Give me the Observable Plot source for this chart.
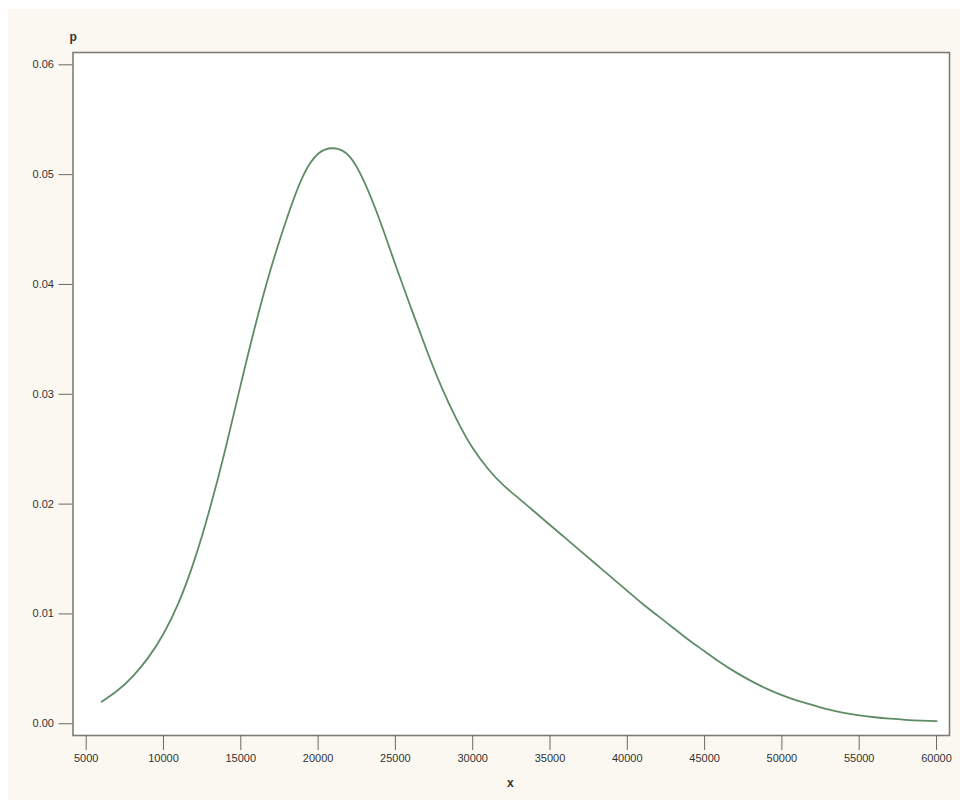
<!DOCTYPE html>
<html>
<head>
<meta charset="utf-8">
<script src="https://cdn.jsdelivr.net/npm/d3@7"></script>
<script src="https://cdn.jsdelivr.net/npm/@observablehq/plot@0.6"></script>
<style>
  html, body { margin: 0; padding: 0; background: #ffffff; }
  #wrap { padding: 9px 0 0 8px; width: 952px; height: 791px; }
  #wrap svg { display: block; background: #fbf8f1; }
</style>
</head>
<body>
<div id="wrap"></div>
<script>
// Density curve values
const xValues = [6000, 7000, 8000, 9000, 10000, 11000, 12000, 13000, 14000, 15000,
  16000, 17000, 18000, 19000, 20000, 21000, 22000, 23000, 24000, 25000,
  26000, 27000, 28000, 29000, 30000, 31000, 32000, 33000, 34000, 35000,
  36000, 37000, 38000, 39000, 40000, 41000, 42000, 43000, 44000, 45000,
  46000, 47000, 48000, 49000, 50000, 51000, 52000, 53000, 54000, 55000,
  56000, 57000, 58000, 59000, 60000];
const pValues = [0.0020, 0.0030, 0.0043, 0.0060, 0.0082, 0.0111, 0.0149, 0.0196, 0.0250, 0.0309,
  0.0366, 0.0417, 0.0461, 0.0498, 0.0519, 0.0524, 0.0517, 0.0493, 0.0458, 0.0418,
  0.0379, 0.0341, 0.0306, 0.0276, 0.0251, 0.0232, 0.0217, 0.0205, 0.0193, 0.0181,
  0.0169, 0.0157, 0.0145, 0.0133, 0.0121, 0.0109, 0.0098, 0.0087, 0.0076, 0.0066,
  0.0056, 0.0047, 0.0039, 0.0032, 0.0026, 0.0021, 0.0017, 0.0013, 0.0010, 0.00077,
  0.00059, 0.00046, 0.00036, 0.00029, 0.00024];
const xTicks = [5000, 10000, 15000, 20000, 25000, 30000, 35000, 40000, 45000, 50000, 55000, 60000];
const yTicks = [0, 0.01, 0.02, 0.03, 0.04, 0.05, 0.06];
const xLabel = "x";
const yLabel = "p";

const data = xValues.map((x, i) => ({x, p: pValues[i]}));

const chart = Plot.plot({
  width: 952,
  height: 791,
  marginLeft: 64.5,
  marginTop: 43,
  marginRight: 11,
  marginBottom: 65,
  style: {fontFamily: "'Liberation Sans', Arial, sans-serif", fontSize: "11px", color: "#333", background: "#fbf8f1"},
  x: {domain: [4146, 60841]},
  y: {domain: [-0.00107, 0.06112]},
  marks: [
    Plot.frame({fill: "white", stroke: "none"}),
    Plot.line(data, {x: "x", y: "p", stroke: "#5f8c66", strokeWidth: 1.8, curve: "natural"}),
    Plot.frame({stroke: "#7d7d76", strokeWidth: 1.6}),
    Plot.axisX({ticks: xTicks, tickSize: 15, tickPadding: 4, stroke: "#6a6a66", tickFormat: d3.format("d"), label: null, fill: "#333"}),
    Plot.axisY({ticks: yTicks, tickSize: 14, tickPadding: 5, stroke: "#6a6a66", tickFormat: d3.format(".2f"), label: null, fill: "#333"}),
    Plot.text([yLabel], {frameAnchor: "top-left", dx: -3.5, dy: -20, text: d => d, fontWeight: "bold", fontSize: 12, fill: "#333"}),
    Plot.text([xLabel], {frameAnchor: "bottom", dx: -1, dy: 51, text: d => d, fontWeight: "bold", fontSize: 12, fill: "#333"})
  ]
});
document.getElementById("wrap").appendChild(chart);
</script>
</body>
</html>
